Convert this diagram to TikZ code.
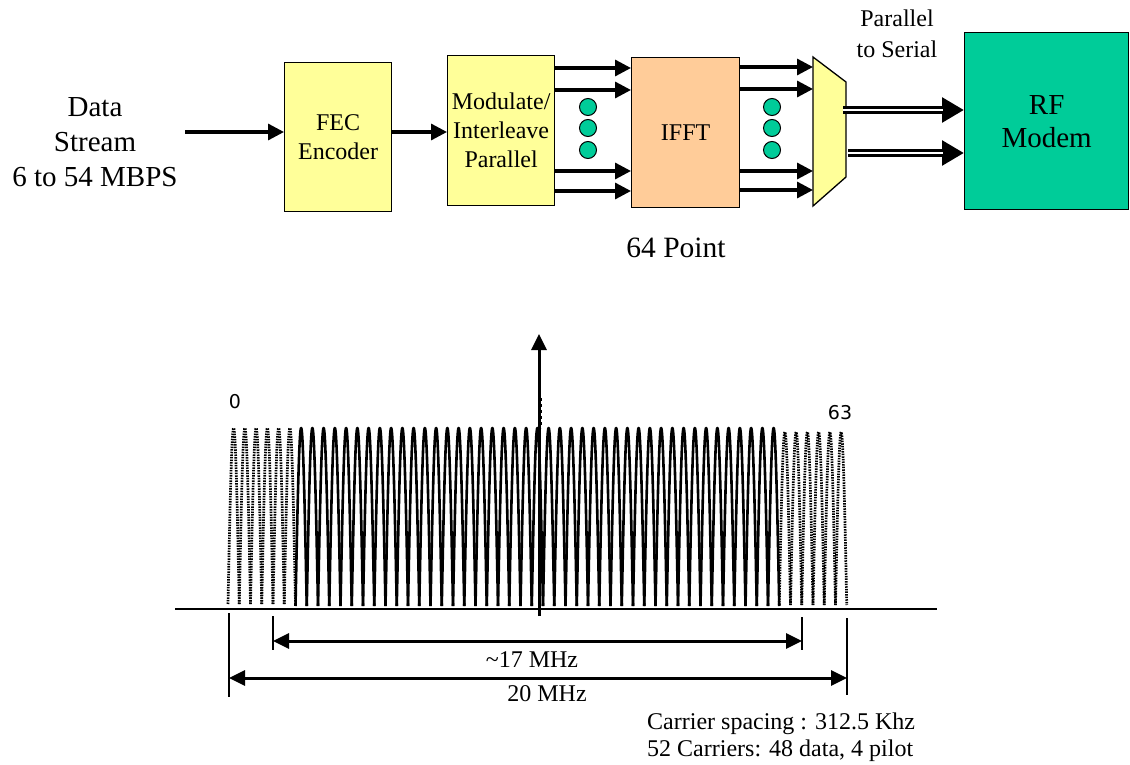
\documentclass[tikz,border=0pt]{standalone}
\usepackage{fontspec}
\setmainfont{Liberation Serif}
\newfontfamily\lblfont{DejaVu Sans}
\usetikzlibrary{arrows.meta,calc}
\definecolor{boxyellow}{HTML}{FFFF99}
\definecolor{peach}{HTML}{FFCC99}
\definecolor{rfgreen}{HTML}{00CC99}
\tikzset{
  blk/.style={draw=black, line width=1.3pt, inner sep=0pt, anchor=north west, align=center,
              font=\fontsize{24}{29}\selectfont},
  arr/.style={line width=3.3pt, -{Triangle[length=16pt,width=16pt]}},
  dblarr/.style={line width=7.5pt, -{Triangle[length=22pt,width=24pt]}},
  dblgap/.style={white, line width=1.8pt, shorten >=21pt},
  dim/.style={line width=3pt, {Triangle[length=16pt,width=15pt]}-{Triangle[length=16pt,width=15pt]}},
  tick/.style={line width=1.4pt},
  dotnode/.style={circle, draw=black, line width=1pt, fill=rfgreen, minimum size=17pt, inner sep=0pt},
  solidarch/.style={line width=2.6pt, line join=round},
  dotarch/.style={line width=2.7pt, dash pattern=on 1.5pt off 1.1pt},
  txt/.style={inner sep=0pt}
}
\begin{document}
\begin{tikzpicture}[x=1pt,y=-1pt]
\useasboundingbox (0,0) rectangle (1130,765);

% ---------- block diagram ----------
\node[txt, align=center, font=\fontsize{29}{35}\selectfont] (data) at (95,142) {Data\\Stream\\6 to 54 MBPS};
\node[blk, fill=boxyellow, minimum width=107pt, minimum height=149pt] (fec) at (284,62) {FEC\\Encoder};
\node[blk, fill=boxyellow, minimum width=107pt, minimum height=150pt] (mod) at (447,55) {Modulate/\\Interleave\\Parallel};
\node[blk, fill=peach, minimum width=108pt, minimum height=150pt] (ifft) at (631,57) {IFFT};
\node[blk, fill=rfgreen, minimum width=164pt, minimum height=177pt, font=\fontsize{29}{33}\selectfont] (rf) at (964,32) {RF\\Modem};

\draw[fill=boxyellow, line width=1.3pt] (813,57) coordinate (mtl) -- (846,82) coordinate (mtr)
  -- (846,177) coordinate (mbr) -- (813,206) coordinate (mbl) -- cycle;

\node[txt, align=center, font=\fontsize{24}{31}\selectfont] (p2s) at (897,34) {Parallel\\to Serial};
\node[txt, font=\fontsize{29.5}{32}\selectfont] (pts) at (676,248) {64 Point};

\coordinate (din) at (185,132);
\draw[arr] (din) -- (din -| fec.west);
\draw[arr] (fec.east |- din) -- (mod.west |- din);

\foreach \y in {68,90,171,191}{
  \coordinate (t) at (0,\y);
  \draw[arr] (mod.east |- t) -- (ifft.west |- t);
}
\foreach \y in {67,89,171,190}{
  \coordinate (t) at (0,\y);
  \draw[arr] (ifft.east |- t) -- (mtl |- t);
}
\foreach \y [count=\i] in {107,128,150}{
  \node[dotnode] (da\i) at (588,\y) {};
  \node[dotnode] (db\i) at (772,\y) {};
}

\coordinate (o1) at (843,110);
\coordinate (o2) at (848,153);
\draw[dblarr] (o1) -- (o1 -| rf.west);
\draw[dblgap] (o1) -- (o1 -| rf.west);
\draw[dblarr] (o2) -- (o2 -| rf.west);
\draw[dblgap] (o2) -- (o2 -| rf.west);

% ---------- spectrum ----------
\foreach \i in {0,...,54}{
  \pgfmathsetmacro{\xa}{228+\i*11.25}
  \pgfmathsetmacro{\xm}{\xa+5.625}
  \pgfmathsetmacro{\xb}{\xa+11.25}
  \ifnum\i<6
    \draw[dotarch] (\xa,604) sin (\xm,428) cos (\xb,604);
  \else\ifnum\i>48
    \draw[dotarch] (\xa,605) sin (\xm,432) cos (\xb,605);
  \else
    \draw[solidarch] (\xa,606) sin (\xm,428) cos (\xb,606);
  \fi\fi
}

\coordinate (ax0) at (175,609);
\coordinate (ax1) at (937,609);
\draw[line width=2pt] (ax0) -- (ax1);

\coordinate (vb) at (539,616);
\coordinate (vt) at (539,334);
\draw[line width=3pt, -{Triangle[length=16pt,width=15pt]}] (vb) -- (vt);
\draw[line width=2.5pt, dash pattern=on 3pt off 3pt] (541,398) -- (541,428);

\node[txt, font=\lblfont\fontsize{19}{19}\selectfont] (l0) at (235,402) {0};
\node[txt, font=\lblfont\fontsize{19}{19}\selectfont] (l63) at (840,413) {63};

% dimension lines
\draw[tick] (229,613) -- (229,697);
\draw[tick] (273,616) -- (273,650);
\draw[tick] (802,617) -- (802,650);
\draw[tick] (847,618) -- (847,695);

\coordinate (a17l) at (273,641);
\coordinate (a17r) at (802,641);
\coordinate (a20l) at (229,678);
\coordinate (a20r) at (847,678);
\draw[dim] (a17l) -- (a17r);
\draw[dim] (a20l) -- (a20r);

\node[txt, anchor=base, font=\fontsize{24}{28}\selectfont] (t17) at (532,667) {\textasciitilde17 MHz};
\node[txt, anchor=base, font=\fontsize{24}{28}\selectfont] (t20) at (547,701) {20 MHz};

\node[txt, anchor=base west, font=\fontsize{24}{28}\selectfont] (cs1) at (647,729) {Carrier spacing : 312.5 Khz};
\node[txt, anchor=base west, font=\fontsize{24}{28}\selectfont] (cs2) at (647,756) {52 Carriers: 48 data, 4 pilot};
\end{tikzpicture}
\end{document}
